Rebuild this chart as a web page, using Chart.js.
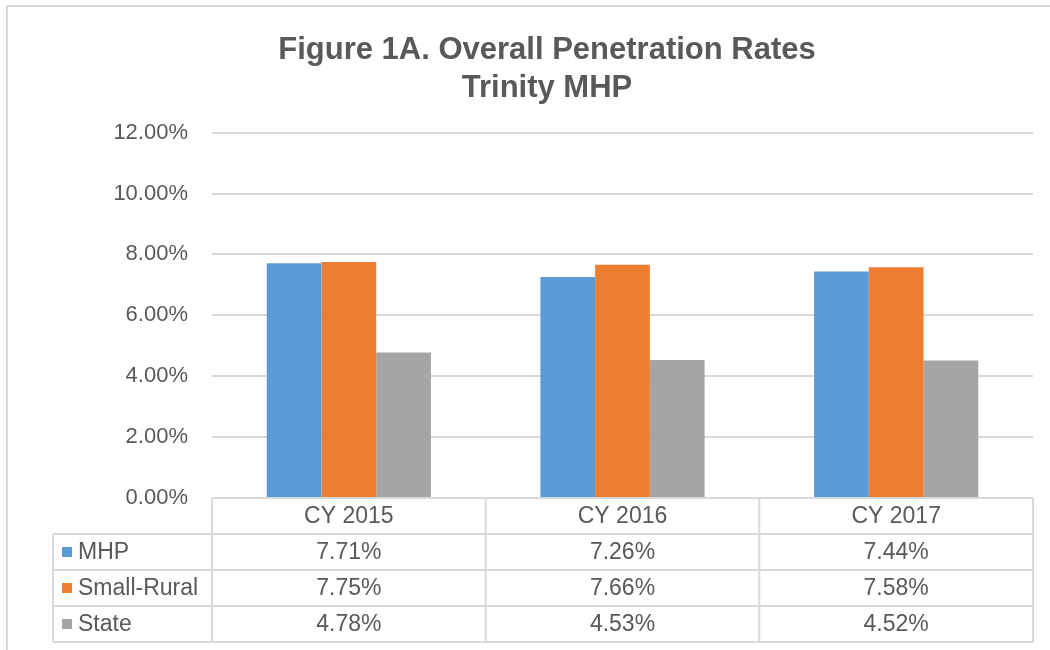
<!DOCTYPE html>
<html>
<head>
<meta charset="utf-8">
<script src="https://cdn.jsdelivr.net/npm/chart.js@4/dist/chart.umd.min.js"></script>
<style>
  body { margin: 0; background: #fff; }
  canvas { display: block; }
</style>
</head>
<body>
<canvas id="grafico" width="1050" height="650"></canvas>
<script>
// dados
const categorias = ['CY 2015', 'CY 2016', 'CY 2017'];
const mhp = [7.71, 7.26, 7.44];
const smallRural = [7.75, 7.66, 7.58];
const state = [4.78, 4.53, 4.52];
const series = ['MHP', 'Small-Rural', 'State'];
const cores = ['#5B9BD5', '#ED7D31', '#A5A5A5'];

const corTexto = '#595959';
const corGrade = '#D9D9D9';
const fonte = '"Liberation Sans", Arial, sans-serif';

// moldura cinza + tabela de dados abaixo do gráfico
const tabelaPlugin = {
    id: 'tabela',
    beforeDraw(chart) {
        const ctx = chart.ctx;
        ctx.save();
        ctx.fillStyle = corGrade;
        ctx.fillRect(6, 5, 1044, 2);
        ctx.fillRect(6, 5, 2, 645);
        ctx.restore();
    },
    afterDraw(chart) {
        const ctx = chart.ctx;
        const x = chart.scales.x;
        const area = chart.chartArea;
        const larg = (x.right - x.left) / categorias.length;
        const alturaLinha = 36;
        const topo = area.bottom;
        const esquerda = 53;
        const dados = [mhp, smallRural, state];

        ctx.save();
        ctx.strokeStyle = corGrade;
        ctx.lineWidth = 2;

        ctx.beginPath();
        ctx.moveTo(x.left, topo);
        ctx.lineTo(x.right, topo);
        ctx.moveTo(x.left, topo);
        ctx.lineTo(x.left, topo + alturaLinha * 4);
        for (let r = 1; r <= 4; r++) {
            ctx.moveTo(esquerda, topo + alturaLinha * r);
            ctx.lineTo(x.right, topo + alturaLinha * r);
        }
        ctx.moveTo(esquerda, topo + alturaLinha);
        ctx.lineTo(esquerda, topo + alturaLinha * 4);
        for (let i = 1; i <= categorias.length; i++) {
            const cx = x.left + larg * i;
            ctx.moveTo(cx, topo);
            ctx.lineTo(cx, topo + alturaLinha * 4);
        }
        ctx.stroke();

        ctx.fillStyle = corTexto;
        ctx.font = '23px ' + fonte;
        ctx.textBaseline = 'middle';
        ctx.textAlign = 'center';
        categorias.forEach((c, i) => {
            ctx.fillText(c, x.getPixelForValue(i), topo + alturaLinha / 2 + 1);
        });

        dados.forEach((serie, r) => {
            const cy = topo + alturaLinha * (r + 1) + alturaLinha / 2 + 1;
            ctx.fillStyle = cores[r];
            ctx.fillRect(62, cy - 6, 10, 10);
            ctx.fillStyle = corTexto;
            ctx.textAlign = 'left';
            ctx.fillText(series[r], 78, cy);
            ctx.textAlign = 'center';
            serie.forEach((v, i) => {
                ctx.fillText(v.toFixed(2) + '%', x.getPixelForValue(i), cy);
            });
        });
        ctx.restore();
    }
};

new Chart(document.getElementById('grafico'), {
    type: 'bar',
    data: {
        labels: categorias,
        datasets: [
            { label: series[0], data: mhp, backgroundColor: cores[0] },
            { label: series[1], data: smallRural, backgroundColor: cores[1] },
            { label: series[2], data: state, backgroundColor: cores[2] }
        ]
    },
    options: {
        responsive: false,
        animation: false,
        layout: { padding: { top: 0, left: 61, right: 17, bottom: 152 } },
        datasets: { bar: { categoryPercentage: 0.6, barPercentage: 1 } },
        plugins: {
            legend: { display: false },
            tooltip: { enabled: false },
            title: {
                display: true,
                text: ['Figure 1A. Overall Penetration Rates', 'Trinity MHP'],
                color: corTexto,
                font: { family: fonte, size: 31, weight: 'bold', lineHeight: 1.22 },
                padding: { top: 32, bottom: 25 }
            }
        },
        scales: {
            x: { display: false },
            y: {
                min: 0,
                max: 12,
                afterFit(scale) { scale.width = 151; },
                border: { display: false },
                grid: { color: corGrade, lineWidth: 2, drawTicks: false },
                ticks: {
                    stepSize: 2,
                    padding: 24,
                    color: corTexto,
                    font: { family: fonte, size: 22 },
                    callback: v => v.toFixed(2) + '%'
                }
            }
        }
    },
    plugins: [tabelaPlugin]
});
</script>
</body>
</html>
